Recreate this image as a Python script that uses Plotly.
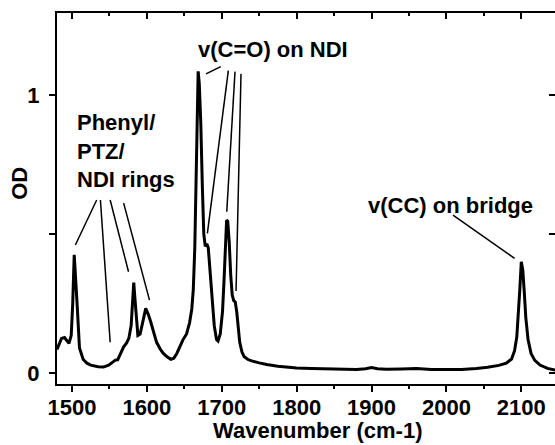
import plotly.graph_objects as go

# IR spectrum: wavenumber (cm-1) vs optical density
wavenumber = [1480, 1483, 1486, 1490, 1494, 1496, 1499, 1501, 1503, 1505, 1507, 1510,
              1515, 1520, 1525, 1535, 1542, 1549, 1555, 1558, 1561, 1565, 1569, 1573,
              1576, 1579, 1581, 1582.5, 1584, 1586, 1588, 1591, 1594, 1597, 1598.5, 1600,
              1602, 1605, 1608, 1613, 1618, 1622, 1627, 1632, 1636, 1640, 1645, 1648,
              1653, 1657, 1660, 1662, 1664, 1666, 1667.5, 1668.5, 1670, 1672, 1674, 1676,
              1678, 1680, 1682, 1684, 1687, 1690, 1693, 1695, 1698, 1701, 1703, 1705,
              1706.5, 1708, 1710, 1712, 1714, 1716, 1718, 1720, 1722, 1724, 1727, 1730,
              1735, 1740, 1750, 1760, 1775, 1790, 1800, 1820, 1840, 1860, 1880, 1892,
              1900, 1908, 1920, 1940, 1960, 1980, 2000, 2020, 2040, 2055, 2070, 2080,
              2087, 2091, 2094, 2096, 2098, 2100, 2102, 2104, 2106, 2109, 2113, 2118,
              2125, 2135, 2145]
od = [0.084, 0.105, 0.124, 0.127, 0.110, 0.106, 0.135, 0.25, 0.425, 0.35, 0.24, 0.09,
      0.048, 0.035, 0.028, 0.022, 0.021, 0.028, 0.042, 0.046, 0.047, 0.07, 0.094, 0.108,
      0.125, 0.17, 0.28, 0.325, 0.27, 0.19, 0.135, 0.14, 0.18, 0.225, 0.232, 0.222,
      0.21, 0.185, 0.155, 0.11, 0.085, 0.07, 0.058, 0.049, 0.053, 0.07, 0.10, 0.118,
      0.14, 0.18, 0.23, 0.30, 0.45, 0.75, 1.02, 1.085, 1.04, 0.90, 0.68, 0.50,
      0.455, 0.465, 0.45, 0.37, 0.26, 0.17, 0.12, 0.115, 0.14, 0.22, 0.33, 0.48,
      0.55, 0.545, 0.47, 0.35, 0.28, 0.26, 0.255, 0.22, 0.16, 0.11, 0.075, 0.058,
      0.048, 0.043, 0.036, 0.030, 0.024, 0.020, 0.018, 0.016, 0.014, 0.013, 0.012, 0.015,
      0.019, 0.015, 0.013, 0.014, 0.016, 0.012, 0.011, 0.012, 0.016, 0.020, 0.027, 0.035,
      0.05, 0.08, 0.13, 0.20, 0.30, 0.40, 0.37, 0.29, 0.20, 0.12, 0.07, 0.045,
      0.028, 0.016, 0.010]

x_ticks = [1500, 1600, 1700, 1800, 1900, 2000, 2100]
y_ticks = [0, 0.5, 1]
y_tick_text = ["0", "", "1"]

# Labels: (text, left x, centre y)
labels = [
    ("Phenyl/<br>PTZ/<br>NDI rings", 1504, 0.80),
    ("v(C=O) on NDI", 1666, 1.162),
    ("v(CC) on bridge", 1892, 0.604),
]
# Leader lines: (x0, y0, x1, y1)
leaders = [
    (1533, 0.622, 1504.5, 0.46),
    (1538, 0.622, 1551, 0.11),
    (1551, 0.622, 1575.5, 0.364),
    (1569, 0.611, 1603.5, 0.262),
    (1679, 1.076, 1698.7, 1.102),
    (1708.8, 1.088, 1680.8, 0.502),
    (1717.7, 1.084, 1706.7, 0.58),
    (1725.7, 1.076, 1719.1, 0.295),
    (2008.8, 0.568, 2091.1, 0.412),
]

FONT = "Liberation Sans, Arial, sans-serif"
SIZE = 22
x_range = [1480, 2145]
y_range = [-0.04, 1.295]

fig = go.Figure()
fig.add_trace(go.Scatter(x=wavenumber, y=od, mode="lines",
                         line=dict(color="black", width=3),
                         showlegend=False, hoverinfo="skip"))
# invisible trace to carry the top/right mirror axes
fig.add_trace(go.Scatter(x=[x_range[0]], y=[0], xaxis="x2", yaxis="y2",
                         mode="markers", marker=dict(opacity=0),
                         showlegend=False, hoverinfo="skip"))

for text, x, y in labels:
    fig.add_annotation(x=x, y=y, xref="x", yref="y", text=text, showarrow=False,
                       xanchor="left", yanchor="middle", align="left",
                       font=dict(family=FONT, size=SIZE, color="black", weight="bold"))

for x0, y0, x1, y1 in leaders:
    fig.add_shape(type="line", x0=x0, y0=y0, x1=x1, y1=y1, xref="x", yref="y",
                  line=dict(color="black", width=1.5))

fig.add_annotation(text="Wavenumber (cm-1)", xref="paper", yref="paper",
                   x=0.524, y=-0.126, xanchor="center", yanchor="middle",
                   showarrow=False,
                   font=dict(family=FONT, size=SIZE, color="black", weight="bold"))
fig.add_annotation(text="OD", xref="paper", yref="paper", x=-0.074, y=0.54,
                   xanchor="center", yanchor="middle", textangle=-90,
                   showarrow=False,
                   font=dict(family=FONT, size=SIZE, color="black", weight="bold"))

tickfont = dict(family=FONT, size=SIZE, color="black", weight="bold")
fig.update_layout(
    width=555, height=445,
    margin=dict(l=57, r=0, t=13, b=61),
    paper_bgcolor="white", plot_bgcolor="white",
    xaxis=dict(range=x_range, tickvals=x_ticks, ticks="outside", ticklen=6,
               tickwidth=1.5, tickcolor="black", showline=True, linewidth=2,
               linecolor="black", showgrid=False, zeroline=False,
               tickfont=tickfont, ticklabelstandoff=-3,
               minor=dict(dtick=50, tick0=1500, ticks="outside", ticklen=3,
                          tickwidth=1.5, tickcolor="black")),
    xaxis2=dict(range=x_range, overlaying="x", side="top", anchor="y",
                tickvals=x_ticks, ticks="inside", ticklen=6, tickwidth=1.5,
                tickcolor="black", showline=True, linewidth=2, linecolor="black",
                showticklabels=False, showgrid=False, zeroline=False,
                minor=dict(dtick=50, tick0=1500, ticks="inside", ticklen=3,
                           tickwidth=1.5, tickcolor="black")),
    yaxis=dict(range=y_range, tickvals=y_ticks, ticktext=y_tick_text,
               ticks="outside", ticklen=6, tickwidth=1.5, tickcolor="black",
               showline=True, linewidth=2, linecolor="black", showgrid=False,
               zeroline=False, tickfont=tickfont, ticklabelstandoff=5),
    yaxis2=dict(range=y_range, overlaying="y", side="right", anchor="x",
                tickvals=y_ticks, ticks="inside", ticklen=6, tickwidth=1.5,
                tickcolor="black", showline=False, showticklabels=False,
                showgrid=False, zeroline=False),
)

fig.write_html("out.html")
